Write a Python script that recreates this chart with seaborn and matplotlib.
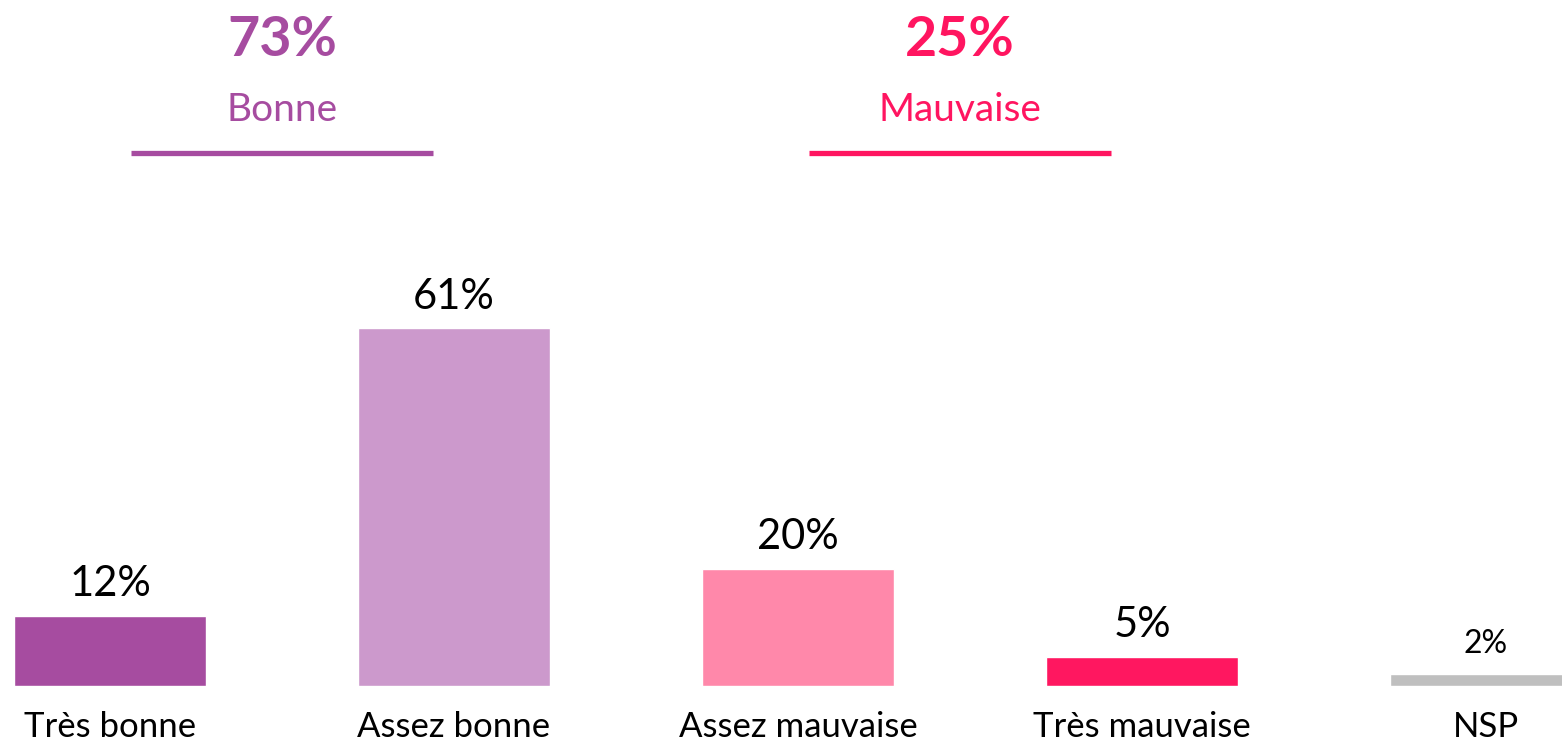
import matplotlib.pyplot as plt
import pandas as pd
import seaborn as sns

# data
categories = ["Très bonne", "Assez bonne", "Assez mauvaise", "Très mauvaise", "NSP"]
values = [12, 61, 20, 5, 2]
labels = ["12%", "61%", "20%", "5%", "2%"]
colors = ["#A64CA0", "#CC99CC", "#FF88AA", "#FF1760", "#BFBFBF"]

groups = ["Bonne", "Mauvaise"]
group_totals = ["73%", "25%"]
group_colors = ["#A64CA0", "#FF1560"]

sns.set_style("white")
plt.rcParams["font.family"] = ["Lato", "DejaVu Sans"]

df = pd.DataFrame({"cat": categories, "val": values})

fig = plt.figure(figsize=(15.62, 7.43), dpi=100)
ax = fig.add_axes([0, 57 / 743, 1, 686 / 743])

sns.barplot(data=df, x="cat", y="val", hue="cat", palette=colors,
            legend=False, width=0.558, ax=ax, saturation=1)

ax.set_xlim(-0.32, 4.221)
ax.set_ylim(0, 116.9)

# value labels
for i, (v, lab) in enumerate(zip(values, labels)):
    small = lab == "2%"
    ax.annotate(lab, (i, v), xytext=(0, 11 if small else 9), textcoords="offset points",
                ha="center", va="bottom", fontsize=23 if small else 30, color="black")

ax.set_xlabel("")
ax.set_ylabel("")
ax.set_yticks([])
ax.tick_params(axis="x", length=0, pad=18, labelsize=25, labelcolor="black")
for s in ax.spines.values():
    s.set_visible(False)

# group headers
centers_px = [282, 960]
for cx, g, tot, c in zip(centers_px, groups, group_totals, group_colors):
    xf = cx / 1562
    fig.text(xf, 1 - 40 / 743, tot, ha="center", va="center", fontsize=40,
             fontweight="bold", color=c)
    fig.text(xf, 1 - 110 / 743, g, ha="center", va="center", fontsize=28, color=c)
    fig.add_artist(plt.Line2D([(cx - 151) / 1562, (cx + 151) / 1562],
                              [1 - 152.5 / 743, 1 - 152.5 / 743],
                              color=c, linewidth=3.8, solid_capstyle="butt"))

fig.savefig("out.png", dpi=100)
